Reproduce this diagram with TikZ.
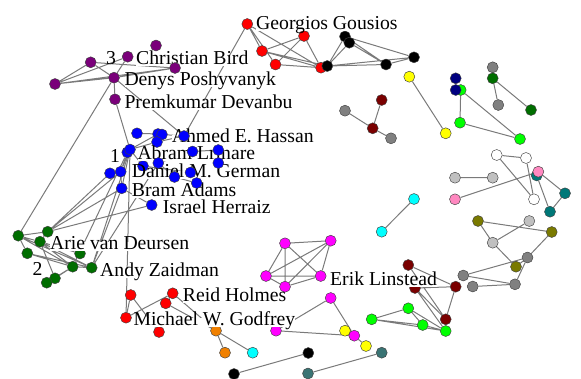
\documentclass[tikz,border=0pt]{standalone}
\usepackage{fontspec}
\setmainfont{Liberation Serif}
\pgfdeclarelayer{bg}
\pgfdeclarelayer{lab}
\pgfdeclarelayer{front}
\pgfsetlayers{bg,main,lab,front}
\definecolor{cRed}{HTML}{FF0000}
\definecolor{cBlue}{HTML}{0000FF}
\definecolor{cPurple}{HTML}{7A007A}
\definecolor{cDkGreen}{HTML}{006E00}
\definecolor{cYellow}{HTML}{FFFF00}
\definecolor{cNavy}{HTML}{000080}
\definecolor{cLime}{HTML}{00FF00}
\definecolor{cMaroon}{HTML}{7A0000}
\definecolor{cGray}{HTML}{808080}
\definecolor{cLGray}{HTML}{C0C0C0}
\definecolor{cPink}{HTML}{FF88C0}
\definecolor{cTeal}{HTML}{007878}
\definecolor{cOlive}{HTML}{7A7A00}
\definecolor{cCyan}{HTML}{00FFFF}
\definecolor{cMagenta}{HTML}{FF00FF}
\definecolor{cOrange}{HTML}{F08000}
\definecolor{cSlate}{HTML}{3A7474}
\definecolor{cEdge}{HTML}{7A7A7A}
\tikzset{
  nd/.style={circle, draw=black!75, line width=0.45pt, minimum size=11pt, inner sep=0pt},
  ed/.style={draw=cEdge, line width=1pt},
  lbl/.style={anchor=base west, fill=white, inner sep=0pt, text height=0.7em, text depth=0.15em, font=\fontsize{19.7}{20}\selectfont},
  num/.style={anchor=base west, inner sep=0pt, font=\fontsize{19.7}{20}\selectfont}
}
\begin{document}
\begin{tikzpicture}[x=1pt,y=-1pt]
\useasboundingbox (0,0) rectangle (581,378);
% ---------- nodes (main layer) ----------
% purple
\node[nd,fill=cPurple] (pA) at (156,45.5) {};
\node[nd,fill=cPurple] (pB) at (90.7,62.3) {};
\node[nd,fill=cPurple] (pC) at (55,84) {};
\node[nd,fill=cPurple] (pCB) at (127.7,56.7) {};
\node[nd,fill=cPurple] (pDP) at (114,77.7) {};
\node[nd,fill=cPurple] (pPD) at (115,99.3) {};
% red top
\node[nd,fill=cRed] (gG) at (247.3,24) {};
\node[nd,fill=cRed] (rA) at (262,51) {};
\node[nd,fill=cRed] (rB) at (275.5,64.5) {};
\node[nd,fill=cRed] (rT) at (304,36) {};
\node[nd,fill=cRed] (rC) at (321,67.7) {};
% black top
\node[nd,fill=black] (kA) at (327.3,66) {};
\node[nd,fill=black] (kB) at (345,36.5) {};
\node[nd,fill=black] (kC) at (349.3,42.7) {};
\node[nd,fill=black] (kD) at (386,64.5) {};
\node[nd,fill=black] (kE) at (414,57.3) {};
% blue
\node[nd,fill=cBlue] (bA) at (137,133.3) {};
\node[nd,fill=cBlue] (bB) at (158,134) {};
\node[nd,fill=cBlue] (bB2) at (162,134.5) {};
\node[nd,fill=cBlue] (bC) at (157,142) {};
\node[nd,fill=cBlue] (b1b) at (127.3,152.3) {};
\node[nd,fill=cBlue] (b1) at (130,149.5) {};
\node[nd,fill=cBlue] (bH) at (143,166) {};
\node[nd,fill=cBlue] (bI) at (110,173.3) {};
\node[nd,fill=cBlue] (bDG) at (120.7,171.7) {};
\node[nd,fill=cBlue] (bBA) at (121.7,188.3) {};
\node[nd,fill=cBlue] (bIH) at (151.7,205) {};
% green
\node[nd,fill=cDkGreen] (g1) at (18.3,235.7) {};
\node[nd,fill=cDkGreen] (g2) at (47.7,231.7) {};
\node[nd,fill=cDkGreen] (gAV) at (40,241.7) {};
\node[nd,fill=cDkGreen] (g4) at (27.3,253.3) {};
\node[nd,fill=cDkGreen] (gH) at (80,253.5) {};
\node[nd,fill=cDkGreen] (g5) at (72.7,266.7) {};
\node[nd,fill=cDkGreen] (gAZ) at (91.7,267.7) {};
\node[nd,fill=cDkGreen] (g6) at (55,278.3) {};
\node[nd,fill=cDkGreen] (g7) at (46.7,282.7) {};
% red bottom
\node[nd,fill=cRed] (r1) at (130.7,295) {};
\node[nd,fill=cRed] (rRH) at (172.7,293.3) {};
\node[nd,fill=cRed] (r3) at (165.7,303.3) {};
\node[nd,fill=cRed] (rMG) at (126,317.7) {};
\node[nd,fill=cRed] (r5) at (159,332) {};
% orange, cyan
\node[nd,fill=cOrange] (o1) at (216,330.7) {};
\node[nd,fill=cOrange] (o2) at (225,352.7) {};
\node[nd,fill=cCyan] (c1) at (252.7,352.7) {};
% magenta
\node[nd,fill=cMagenta] (m1) at (285,243.3) {};
\node[nd,fill=cMagenta] (m2) at (330.7,240.7) {};
\node[nd,fill=cMagenta] (m3) at (266,276) {};
\node[nd,fill=cMagenta] (m4) at (285,286.7) {};
\node[nd,fill=cMagenta] (mEL) at (320.7,276) {};
\node[nd,fill=cMagenta] (m6) at (276,330.7) {};
\node[nd,fill=cMagenta] (m7) at (330.7,298) {};
\node[nd,fill=cYellow] (y1) at (345,330.7) {};
\node[nd,fill=cMagenta] (m8) at (354.3,335.7) {};
\node[nd,fill=cYellow] (y2) at (366,346) {};
% black / slate bottom
\node[nd,fill=black] (k2) at (234,374) {};
\node[nd,fill=black] (k1) at (308.3,353) {};
\node[nd,fill=cSlate] (s1) at (308,373.5) {};
\node[nd,fill=cSlate] (s2) at (381.7,352.7) {};
% lime bottom
\node[nd,fill=cLime] (l1) at (371.7,319.3) {};
\node[nd,fill=cLime] (l2) at (408.3,308.3) {};
\node[nd,fill=cLime] (l3) at (422.7,325) {};
\node[nd,fill=cLime] (l4) at (445.7,331) {};
% maroon bottom
\node[nd,fill=cMaroon] (n1) at (445.7,319.3) {};
\node[nd,fill=cMaroon] (n2) at (455.7,286.7) {};
\node[nd,fill=cMaroon] (n3) at (408.3,265) {};
\node[nd,fill=cMaroon] (n4) at (415,288) {};
% gray / olive cluster
\node[nd,fill=cGray] (q1) at (463.3,275.5) {};
\node[nd,fill=cGray] (q2) at (472.7,286.5) {};
\node[nd,fill=cGray] (q3) at (515,284.3) {};
\node[nd,fill=cGray] (q4) at (527.5,257.5) {};
\node[nd,fill=cOlive] (ol1) at (478,221) {};
\node[nd,fill=cOlive] (ol2) at (516,266.7) {};
\node[nd,fill=cOlive] (ol3) at (551.7,232) {};
\node[nd,fill=cLGray] (lg1) at (529.3,221) {};
\node[nd,fill=cLGray] (lg2) at (492.7,242.7) {};
% cyan middle
\node[nd,fill=cCyan] (c2) at (414,199) {};
\node[nd,fill=cCyan] (c3) at (381.7,231.7) {};
% light gray / pink / teal / white
\node[nd,fill=cLGray] (lg3) at (455,177.7) {};
\node[nd,fill=cLGray] (lg4) at (492.7,177.7) {};
\node[nd,fill=cPink] (pk1) at (455,199.3) {};
\node[nd,fill=cTeal] (tl1) at (536.7,175.5) {};
\node[nd,fill=cPink] (pk2) at (538.3,171.7) {};
\node[nd,fill=cTeal] (tl2) at (565,193.3) {};
\node[nd,fill=cTeal] (tl3) at (550,211.7) {};
\node[nd,fill=white] (w1) at (496.7,155) {};
\node[nd,fill=white] (w2) at (526,158) {};
\node[nd,fill=white] (w3) at (534,199.3) {};
% upper right
\node[nd,fill=cYellow] (ye1) at (409.3,76.7) {};
\node[nd,fill=cYellow] (ye2) at (445.7,133.3) {};
\node[nd,fill=cMaroon] (mr1) at (381.7,100) {};
\node[nd,fill=cGray] (gy1) at (345,110.7) {};
\node[nd,fill=cMaroon] (mr2) at (372.7,128.3) {};
\node[nd,fill=cGray] (gy2) at (391,138.3) {};
\node[nd,fill=cLime] (gn1) at (460.7,90) {};
\node[nd,fill=cNavy] (nv1) at (455.7,78.3) {};
\node[nd,fill=cNavy] (nv2) at (455.7,90) {};
\node[nd,fill=cLime] (gn2) at (460,122.7) {};
\node[nd,fill=cLime] (gn3) at (520,139) {};
\node[nd,fill=cGray] (gy3) at (492.7,67.3) {};
\node[nd,fill=cDkGreen] (dg1) at (492.7,78.3) {};
\node[nd,fill=cGray] (gy4) at (498.3,105) {};
\node[nd,fill=cDkGreen] (dg2) at (531,110) {};
% ---------- nodes drawn over labels ----------
\begin{pgfonlayer}{front}
\node[nd,fill=cPurple] (pE) at (175,68) {};
\node[nd,fill=cBlue] (bAH) at (184,136) {};
\node[nd,fill=cBlue] (bG) at (158.3,163) {};
\node[nd,fill=cBlue] (bD) at (192.5,151.5) {};
\node[nd,fill=cBlue] (bE) at (218.3,150) {};
\node[nd,fill=cBlue] (bF) at (218.3,163) {};
\node[nd,fill=cBlue] (bJ) at (174.5,177) {};
\node[nd,fill=cBlue] (bK) at (190.5,172.5) {};
\node[nd,fill=cBlue] (bL) at (196.7,183) {};
\end{pgfonlayer}
% ---------- labels ----------
\begin{pgfonlayer}{lab}
\node[lbl] (tGG) at (256,29.5) {Georgios Gousios};
\node[num] (tNum3) at (106,64) {3};
\node[lbl] (tCB) at (136,64) {Christian Bird};
\node[lbl] (tDP) at (124.3,85) {Denys Poshyvanyk};
\node[lbl] (tPD) at (124.3,108.3) {Premkumar Devanbu};
\node[lbl] (tAH) at (171.7,142) {Ahmed E. Hassan};
\node[num] (tNum1) at (110,162.7) {1};
\node[lbl] (tAL) at (137.3,159.5) {Abram Lrinare};
\node[lbl] (tDG) at (131.7,177.8) {Daniel M. German};
\node[lbl] (tBA) at (131.7,196.3) {Bram Adams};
\node[lbl] (tIH) at (162.7,213.8) {Israel Herraiz};
\node[lbl] (tAV) at (50,249.3) {Arie van Deursen};
\node[num] (tNum2) at (32.3,275) {2};
\node[lbl] (tAZ) at (100,276) {Andy Zaidman};
\node[lbl] (tRH) at (182.7,301.7) {Reid Holmes};
\node[lbl] (tMG) at (133.3,325) {Michael W. Godfrey};
\node[lbl] (tEL) at (330,285.7) {Erik Linstead};
\end{pgfonlayer}
% ---------- edges ----------
\begin{pgfonlayer}{bg}
% purple
\draw[ed] (pC) -- (pB) (pC) -- (pDP) (pC) -- (pE) (pC) -- (pCB) (pB) -- (pDP) (pB) -- (pE)
  (pCB) -- (pDP) (pDP) -- (pE) (pDP) -- (pPD) (pDP) -- (bAH);
% long links
\draw[ed] (pDP) -- (g1) (pPD) -- (b1) (gG) -- (bAH) (b1) -- (rMG);
% red/black top
\draw[ed] (gG) -- (rA) (gG) -- (rB) (gG) -- (rC) (rA) -- (rT) (rB) -- (rT) (rA) -- (rC) (rB) -- (rC) (rT) -- (rC)
  (rA) -- (kA) (kA) -- (kB) (kA) -- (kC) (kB) -- (kC) (kC) -- (kD) (kB) -- (kD) (kB) -- (kE) (kA) -- (kE) (kA) -- (kD) (kD) -- (kE);
% blue
\draw[ed] (bA) -- (bB) (b1) -- (bB) (b1) -- (bC) (bB) -- (bC) (bC) -- (bAH) (bB2) -- (bAH)
  (b1) -- (bH) (b1) -- (bBA) (b1) -- (bDG) (b1b) -- (bDG) (bDG) -- (bI) (bDG) -- (bBA) (bBA) -- (bIH)
  (bG) -- (bJ) (bD) -- (bE) (bE) -- (bF) (bD) -- (bF) (bK) -- (bL) (bH) -- (bK) (bG) -- (bD) (bJ) -- (bL);
% green
\draw[ed] (g1) -- (gAV) (g1) -- (g2) (g1) -- (g4) (g1) -- (g5) (g1) -- (gAZ) (gAV) -- (g2) (gAV) -- (g5)
  (gAV) -- (gAZ) (gAV) -- (g6) (g4) -- (g5) (g4) -- (gAZ) (g6) -- (g5) (g7) -- (g5) (g6) -- (g7) (g5) -- (gAZ) (gH) -- (gAV);
\draw[ed] (g2) -- (bI) (g2) -- (bDG) (g2) -- (bBA) (g2) -- (bIH) (gAZ) -- (bBA) (gAZ) -- (bG) (gAZ) -- (b1) (g5) -- (b1b);
% red bottom
\draw[ed] (r1) -- (rMG) (r1) -- (r5) (rMG) -- (rRH) (rRH) -- (r3) (r3) -- (o1) (rRH) -- (o1);
\draw[ed] (o1) -- (o2) (o1) -- (c1);
% magenta
\draw[ed] (m1) -- (m2) (m1) -- (m3) (m1) -- (m4) (m1) -- (mEL) (m2) -- (m3) (m2) -- (m4) (m2) -- (mEL)
  (m3) -- (m4) (m3) -- (mEL) (m4) -- (mEL);
\draw[ed] (m6) -- (m7) (m6) -- (m8) (m7) -- (m8) (m8) -- (y2) (y1) -- (m8);
\draw[ed] (k2) -- (k1) (s1) -- (s2);
% lime / maroon
\draw[ed] (l1) -- (l2) (l1) -- (l3) (l1) -- (l4) (l2) -- (l3) (l2) -- (l4) (l3) -- (l4);
\draw[ed] (n1) -- (n2) (n3) -- (n2) (n4) -- (n2) (n4) -- (n1) (n4) -- (l4) (n3) -- (n1);
% gray / olive
\draw[ed] (ol1) -- (ol3) (ol1) -- (lg2) (lg2) -- (lg1) (lg2) -- (ol2) (ol3) -- (q4) (q4) -- (q3) (q4) -- (ol2)
  (q1) -- (q4) (q1) -- (q3) (q2) -- (q3);
\draw[ed] (c2) -- (c3);
% pink / teal / white
\draw[ed] (lg3) -- (lg4) (pk1) -- (pk2) (pk2) -- (tl2) (tl1) -- (tl3) (tl2) -- (tl3)
  (w1) -- (w2) (w1) -- (w3) (w2) -- (w3);
% upper right
\draw[ed] (ye1) -- (ye2) (mr1) -- (mr2) (gy1) -- (mr2) (mr2) -- (gy2) (nv1) -- (nv2)
  (gn1) -- (gn2) (gn1) -- (gn3) (gn2) -- (gn3) (gy3) -- (dg1) (dg1) -- (gy4) (dg1) -- (dg2);
\end{pgfonlayer}
\end{tikzpicture}
\end{document}
